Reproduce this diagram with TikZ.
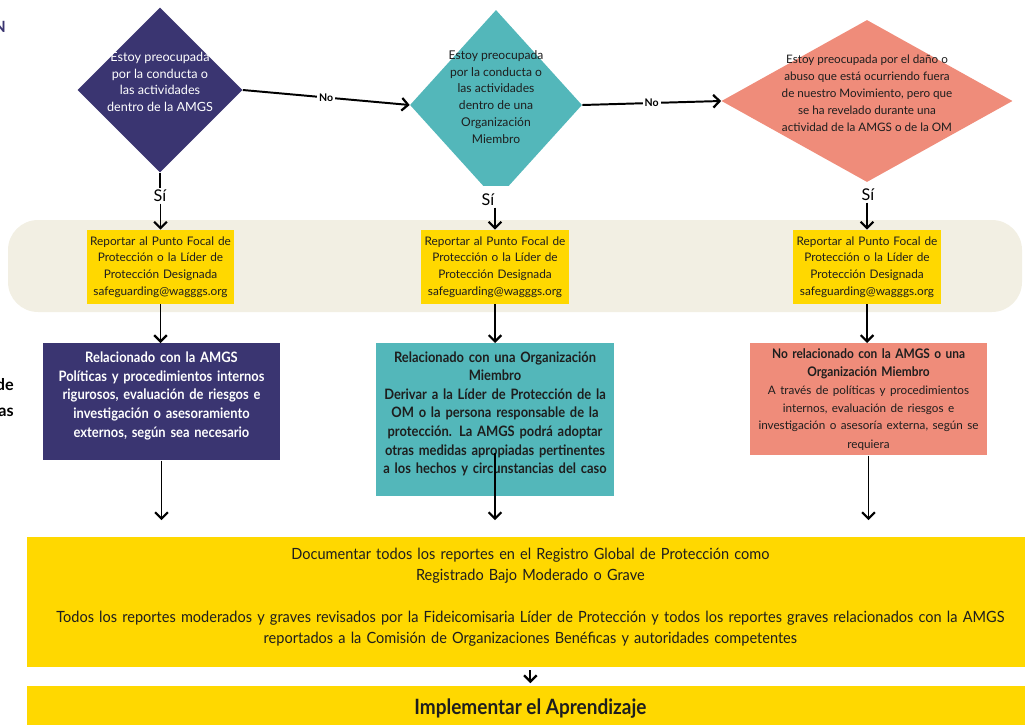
\documentclass[tikz,border=0pt]{standalone}
\usepackage{fontspec}
\setmainfont{Lato}
\newfontfamily\condfont[FakeStretch=0.9]{Lato}
\newfontfamily\narrowfont[FakeStretch=0.94]{Lato}
\usetikzlibrary{shapes.geometric,arrows.meta}
\definecolor{wagpurple}{HTML}{3A3571}
\definecolor{omteal}{HTML}{53B7BA}
\definecolor{outsalmon}{HTML}{EF8C7A}
\definecolor{repyellow}{HTML}{FFD800}
\definecolor{band}{HTML}{F2EFE3}
\definecolor{ink}{HTML}{1E1E1E}
\tikzset{
	flow/.style={->,>={Straight Barb[length=4.5pt,width=9pt,line width=1.6pt]},line width=1.4pt},
	nolabel/.style={fill=white,inner sep=1.5pt,font=\bfseries\fontsize{7.5}{8}\selectfont},
	si/.style={inner sep=1pt,font=\fontsize{11.5}{12}\selectfont},
	dtext/.style={align=center,inner sep=0pt,text=ink},
	report/.style={fill=repyellow,text=ink,text width=3.6cm,minimum width=3.675cm,minimum height=1.85cm,inner sep=1pt,align=center,font=\fontsize{8.4}{11.9}\selectfont},
	casebox/.style={anchor=north,text width=5.85cm,minimum width=5.925cm,inner sep=1pt,align=center,font=\condfont\bfseries\fontsize{10.2}{13.2}\selectfont},
	cutoff/.style={anchor=east,inner sep=0pt,font=\bfseries\fontsize{11.5}{12}\selectfont}
}
\begin{document}
\begin{tikzpicture}[x=0.025cm,y=-0.025cm]
	\useasboundingbox (0,0) rectangle (1025,724);
	% band behind the report boxes
	\fill[band,rounded corners=0.75cm] (8,220) rectangle (1022,312);
	% text cut at the left edge
	\node[cutoff,text=wagpurple,font=\bfseries\fontsize{11}{12}\selectfont] (ttl) at (6,27) {N};
	\node[cutoff] (cut1) at (14,385) {de};
	\node[cutoff] (cut2) at (14,412) {as};
	% the three questions
	\node[diamond,fill=wagpurple,minimum width=4.125cm,minimum height=4.125cm,inner sep=0pt] (d1) at (160,90) {};
	\node[dtext,text=white,font=\fontsize{9}{11.9}\selectfont] (q1) at ([yshift=0.2cm]d1.center) {Estoy preocupada\\por la conducta o\\las actividades\\dentro de la AMGS};
	\begin{scope}
		\clip (400,0) rectangle (600,185);
		\node[diamond,fill=omteal,minimum width=4.3cm,minimum height=4.75cm,inner sep=0pt] (d2) at (496,105) {};
	\end{scope}
	\node[dtext,font=\fontsize{8.6}{12}\selectfont] (q2) at ([yshift=0.2cm]d2.center) {Estoy preocupada\\por la conducta o\\las actividades\\dentro de una\\Organización\\Miembro};
	\node[diamond,fill=outsalmon,minimum width=7.275cm,minimum height=4.05cm,inner sep=0pt] (d3) at (867,101) {};
	\node[dtext,font=\fontsize{8.3}{12}\selectfont] (q3) at ([yshift=0.2cm]d3.center) {Estoy preocupada por el daño o\\abuso que está ocurriendo fuera\\de nuestro Movimiento, pero que\\se ha revelado durante una\\actividad de la AMGS o de la OM};
	\draw[flow] (d1.east) -- node[nolabel]{No} (d2.west);
	\draw[flow] (d2.east) -- node[nolabel]{No} (d3.west);
	% yes branches
	\node[si] (s1) at (160,196) {Sí};
	\node[si] (s2) at (488,200) {Sí};
	\node[si] (s3) at (868,195) {Sí};
	\foreach \n/\x in {1/160.5,2/495,3/867}{
		\node[report] (r\n) at (\x,267) {Reportar al Punto Focal de\\Protección o la Líder de\\Protección Designada\\safeguarding@wagggs.org};
		\draw[flow] (s\n.south -| r\n.north) -- (r\n.north);
	}
	\draw[line width=1.4pt] (d1.south) -- (s1.north);
	% how the case is handled
	\node[casebox,fill=wagpurple,text=white,minimum height=2.925cm] (ca) at (161.5,343) {Relacionado con la AMGS\\Políticas y procedimientos internos\\rigurosos, evaluación de riesgos e\\investigación o asesoramiento\\externos, según sea necesario\\[-3pt]\mbox{}};
	\node[casebox,fill=omteal,text=ink,minimum height=3.825cm] (cb) at (495,343) {Relacionado con una Organización\\Miembro\\Derivar a la Líder de Protección de la\\OM o la persona responsable de la\\protección. La AMGS podrá adoptar\\otras medidas apropiadas pertinentes\\a los hechos y circunstancias del caso\\[-3pt]\mbox{}};
	\node[casebox,fill=outsalmon,text=ink,minimum height=2.8cm,font=\condfont\bfseries\fontsize{9.4}{13.2}\selectfont] (cc) at (868.5,343) {No relacionado con la AMGS o una\\Organización Miembro\\\mdseries\rmfamily\fontsize{8.3}{12.5}\selectfont A través de políticas y procedimientos\\internos, evaluación de riesgos e\\investigación o asesoría externa, según se\\requiera};
	\draw[flow] (r1.south) -- (r1.south |- ca.north);
	\draw[flow] (r2.south) -- (r2.south |- cb.north);
	\draw[flow] (r3.south) -- (r3.south |- cc.north);
	% record and learn
	\node[anchor=north west,fill=repyellow,text=ink,minimum width=25.15cm,minimum height=3.25cm,text width=25cm,inner sep=1pt,align=center,font=\narrowfont\fontsize{11}{15}\selectfont] (rec) at (27,537) {Documentar todos los reportes en el Registro Global de Protección como\\Registrado Bajo Moderado o Grave\\[15pt]Todos los reportes moderados y graves revisados por la Fideicomisaria Líder de Protección y todos los reportes graves relacionados con la AMGS\\reportados a la Comisión de Organizaciones Benéficas y autoridades competentes\\[-6pt]\mbox{}};
	\node[anchor=north west,fill=repyellow,text=ink,minimum width=25.15cm,minimum height=1.1cm,inner sep=1pt,font=\condfont\bfseries\fontsize{15}{16}\selectfont] (learn) at (27,686) {Implementar el Aprendizaje};
	\draw[flow,shorten >=0.42cm] (ca.south) -- (ca.south |- rec.north);
	\draw[flow,shorten <=-1.1cm,shorten >=0.42cm] (cb.south) -- (cb.south |- rec.north);
	\draw[flow,shorten >=0.42cm] (cc.south) -- (cc.south |- rec.north);
	\draw[flow,shorten <=2pt,shorten >=2pt] (rec.south) -- (learn.north);
\end{tikzpicture}
\end{document}
